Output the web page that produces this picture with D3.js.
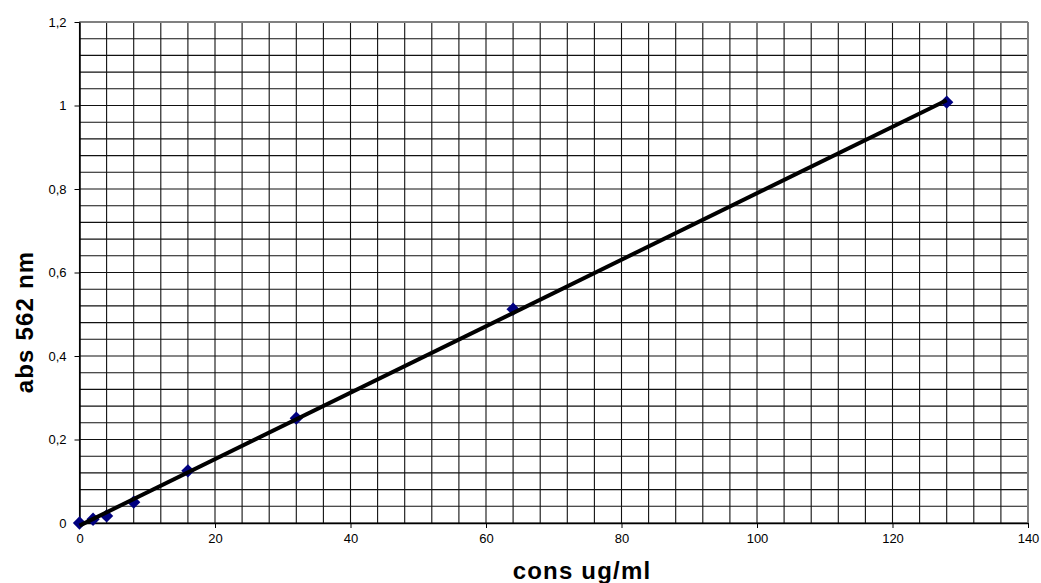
<!DOCTYPE html>
<html>
<head>
<meta charset="utf-8">
<script src="https://cdn.jsdelivr.net/npm/d3@7"></script>
<style>
  html, body { margin: 0; padding: 0; background: #fff; }
  svg { display: block; }
</style>
</head>
<body>
<script>
// Data
const concentrations = [0, 2, 4, 8, 16, 32, 64, 128];
const absorbance = [0, 0.009, 0.017, 0.050, 0.125, 0.251, 0.512, 1.008];
const xTicks = [0, 20, 40, 60, 80, 100, 120, 140];
const yTicks = [0, 0.2, 0.4, 0.6, 0.8, 1.0, 1.2];
const xTitle = "cons ug/ml";
const yTitle = "abs 562 nm";

const W = 1041, H = 583;
const margin = { left: 79.5, right: 1028, top: 22, bottom: 523 };

const svg = d3.select("body").append("svg").attr("width", W).attr("height", H);

const x = d3.scaleLinear().domain([0, 140]).range([margin.left, margin.right]);
const y = d3.scaleLinear().domain([0, 1.2]).range([margin.bottom, margin.top]);

// grid
const xGrid = d3.range(0, 140.001, 4);
const yGrid = d3.range(0, 30.5, 1).map(i => i * 0.04);

const g = svg.append("g");
g.selectAll("line.vg").data(xGrid).enter().append("line")
  .attr("x1", d => x(d)).attr("x2", d => x(d))
  .attr("y1", y(0)).attr("y2", y(1.2))
  .attr("stroke", "#111").attr("stroke-width", 1.1);
g.selectAll("line.hg").data(yGrid).enter().append("line")
  .attr("y1", d => y(d)).attr("y2", d => y(d))
  .attr("x1", x(0)).attr("x2", x(140))
  .attr("stroke", "#111").attr("stroke-width", 1.1);

// border top/right gray
svg.append("line").attr("x1", x(0)).attr("x2", x(140)).attr("y1", y(1.2)).attr("y2", y(1.2))
  .attr("stroke", "#808080").attr("stroke-width", 2);
svg.append("line").attr("x1", x(140)).attr("x2", x(140)).attr("y1", y(0)).attr("y2", y(1.2))
  .attr("stroke", "#808080").attr("stroke-width", 2);

// axes
const fmt = d => d3.format(".1~f")(d).replace(".", ",");
const xAxis = d3.axisBottom(x).tickValues(xTicks).tickSize(5).tickSizeOuter(0).tickPadding(6)
  .tickFormat(d => String(d));
const yAxis = d3.axisLeft(y).tickValues(yTicks).tickSize(5).tickSizeOuter(0).tickPadding(8)
  .tickFormat(fmt);

const gx = svg.append("g").attr("transform", `translate(0,${y(0)})`).call(xAxis);
const gy = svg.append("g").attr("transform", `translate(${x(0)},0)`).call(yAxis);
[gx, gy].forEach(a => {
  a.select(".domain").attr("stroke", "#000").attr("stroke-width", 1.5);
  a.selectAll(".tick line").attr("stroke", "#000").attr("stroke-width", 1);
  a.selectAll(".tick text").attr("fill", "#000")
    .style("font-family", "'Liberation Sans', Arial, sans-serif").style("font-size", "13px");
});

// trendline (least squares)
const n = concentrations.length;
const mx = d3.mean(concentrations), my = d3.mean(absorbance);
let sxy = 0, sxx = 0;
for (let i = 0; i < n; i++) {
  sxy += (concentrations[i] - mx) * (absorbance[i] - my);
  sxx += (concentrations[i] - mx) ** 2;
}
const slope = sxy / sxx, intercept = my - slope * mx;
const xmin = d3.min(concentrations), xmax = d3.max(concentrations);

// markers (square diamonds)
const sym = d3.symbol().type(d3.symbolSquare).size(88);
svg.selectAll("path.pt").data(concentrations).enter().append("path")
  .attr("d", sym)
  .attr("transform", (d, i) => `translate(${x(d)},${y(absorbance[i])}) rotate(45)`)
  .attr("fill", "#000080");

svg.append("line")
  .attr("x1", x(xmin)).attr("y1", y(intercept + slope * xmin))
  .attr("x2", x(xmax)).attr("y2", y(intercept + slope * xmax))
  .attr("stroke", "#000").attr("stroke-width", 4);

// titles
svg.append("text").attr("x", 582).attr("y", 579).attr("text-anchor", "middle")
  .style("font-family", "'Liberation Sans', Arial, sans-serif").style("font-size", "24px")
  .style("letter-spacing", "1.2px")
  .style("font-weight", "bold").text(xTitle);
svg.append("text").attr("transform", "translate(33,322) rotate(-90)").attr("text-anchor", "middle")
  .style("font-family", "'Liberation Sans', Arial, sans-serif").style("font-size", "24px")
  .style("letter-spacing", "1.2px")
  .style("font-weight", "bold").text(yTitle);
</script>
</body>
</html>
